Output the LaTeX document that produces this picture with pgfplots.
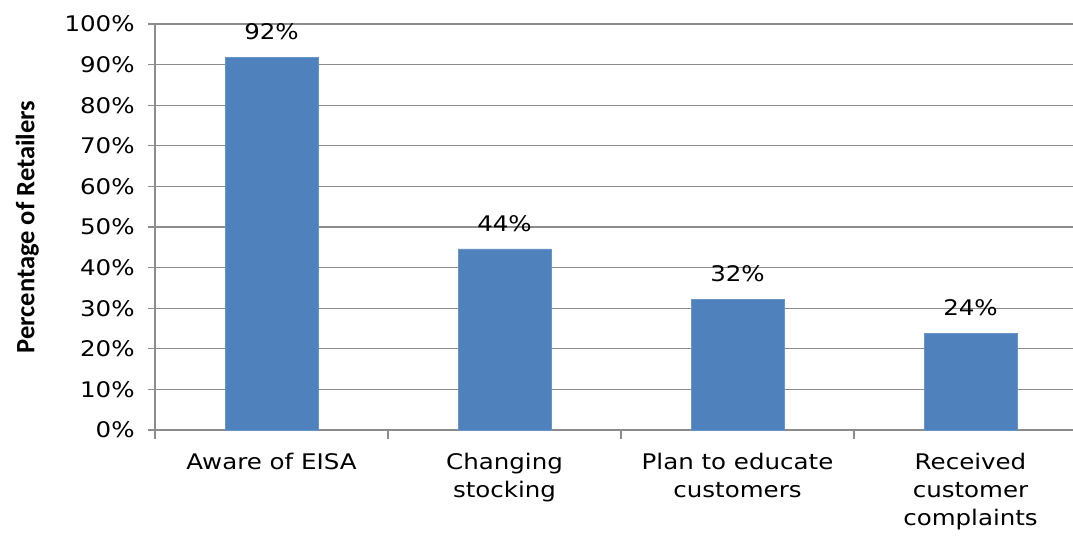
\documentclass[border=0pt]{standalone}
\usepackage{pgfplots}
\pgfplotsset{compat=1.18}
\usepackage{fontspec}
\setmainfont[FakeStretch=1.14]{DejaVu Sans}
\newfontfamily\labfont{Carlito}
\definecolor{barblue}{HTML}{4F81BD}
\definecolor{gridgray}{HTML}{8C8C8C}
\begin{document}
\fontsize{21.5pt}{28pt}\selectfont
\begin{tikzpicture}[x=1pt,y=1pt]
\begin{axis}[
  at={(155pt,107pt)}, anchor=south west,
  scale only axis,
  width=932pt, height=406pt,
  xmin=-0.5, xmax=3.5,
  ymin=0, ymax=100,
  ybar, bar width=93pt,
  xtick={0,1,2,3},
  xticklabels={Aware of EISA, Changing\\stocking, Plan to educate\\customers, Received\\customer\\complaints},
  xticklabel style={align=center, font=\fontsize{21.5pt}{28pt}\selectfont, yshift=-9pt},
  major x tick style={draw=none},
  minor xtick={-0.5,0.5,1.5,2.5,3.5},
  minor x tick style={draw=gridgray, line width=1.2pt},
  ytick={0,10,...,100},
  yticklabel={\pgfmathprintnumber{\tick}\%},
  /pgf/number format/assume math mode=true,
  yticklabel style={font=\fontsize{21.5pt}{28pt}\selectfont, xshift=-6pt},
  tick align=outside,
  major tick length=7pt, minor tick length=9pt,
  y tick style={draw=gridgray, line width=1.2pt},
  ymajorgrids, grid style={draw=gridgray, line width=1.2pt},
  axis line style={draw=gridgray, line width=1.2pt},
  axis x line*=bottom, axis y line*=left,
  ylabel={\labfont\bfseries Percentage of Retailers},
  ylabel style={at={(axis description cs:-0.137,0.5)}, anchor=center, rotate=0, font=\fontsize{26.5pt}{30pt}\selectfont},
  point meta=explicit symbolic,
  nodes near coords={\pgfplotspointmeta\%},
  nodes near coords style={font=\fontsize{21.5pt}{28pt}\selectfont, anchor=south, yshift=10pt},
  clip=false,
]
\addplot[fill=barblue, draw=barblue!85!white, line width=0.8pt] coordinates {(0,91.7) [92] (1,44.6) [44] (2,32.1) [32] (3,23.8) [24]};
\end{axis}
\pgfresetboundingbox
\useasboundingbox (0,0) rectangle (1073,537);
\end{tikzpicture}
\end{document}
